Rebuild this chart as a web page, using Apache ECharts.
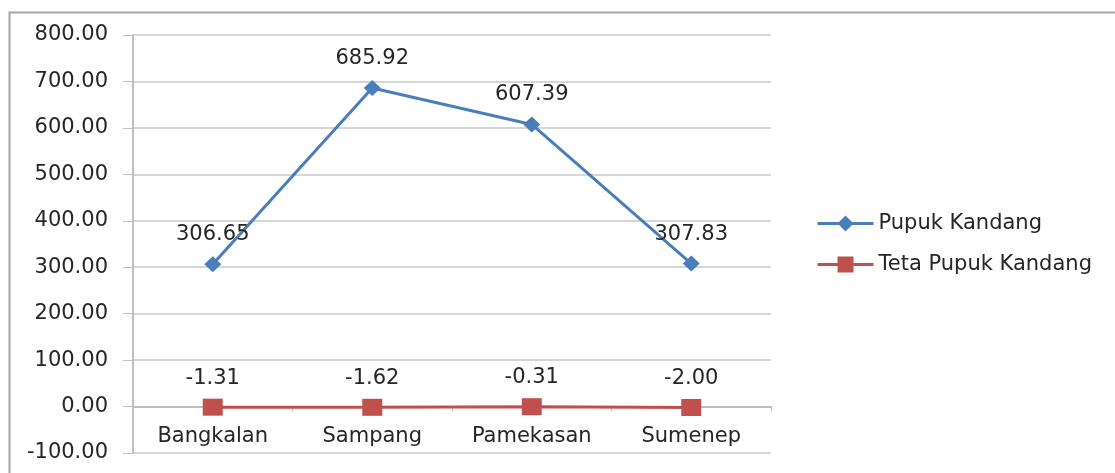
<!DOCTYPE html>
<html>
<head>
<meta charset="utf-8">
<script src="https://cdn.jsdelivr.net/npm/echarts@6/dist/echarts.min.js"></script>
<style>
  html, body { margin: 0; padding: 0; background: #fff; }
  #chart { width: 1115px; height: 473px; }
</style>
</head>
<body>
<div id="chart"></div>
<script>
var categories = ['Bangkalan', 'Sampang', 'Pamekasan', 'Sumenep'];
var pupukKandang = [306.65, 685.92, 607.39, 307.83];
var tetaPupukKandang = [-1.31, -1.62, -0.31, -2.00];
var seriesNames = ['Pupuk Kandang', 'Teta Pupuk Kandang'];

var yMin = -100, yMax = 800, yStep = 100;
var gridTop = 35, gridBottom = 20, chartH = 473;
// move the category axis up to the zero line
var zeroOffset = -(0 - yMin) / (yMax - yMin) * (chartH - gridTop - gridBottom);

var chart = echarts.init(document.getElementById('chart'));
var font = '"DejaVu Sans", "Noto Sans", sans-serif';
var txt = '#262626';

var option = {
  textStyle: { fontFamily: font },
  animation: false,
  graphic: [{
    type: 'rect',
    left: 7, top: 10,
    shape: { width: 1200, height: 600 },
    style: { fill: 'none', stroke: '#a6a6a6', lineWidth: 2 },
    silent: true
  }],
  legend: {
    orient: 'vertical',
    left: 811, top: 208,
    itemWidth: 56, itemHeight: 20,
    itemGap: 20,
    data: seriesNames,
    lineStyle: { width: 3 },
    textStyle: { fontFamily: font, fontSize: 21, color: txt }
  },
  grid: { left: 133, right: 344, top: gridTop, bottom: gridBottom, outerBoundsMode: 'none' },
  xAxis: {
    type: 'category',
    data: categories,
    offset: zeroOffset,
    axisLine: { onZero: false, lineStyle: { color: '#bfbfbf', width: 2 } },
    axisTick: { show: true, length: 5, lineStyle: { color: '#bfbfbf' } },
    axisLabel: { fontFamily: font, fontSize: 21, color: txt, margin: 19 }
  },
  yAxis: {
    type: 'value',
    min: yMin, max: yMax, interval: yStep,
    axisLine: { show: true, lineStyle: { color: '#bfbfbf', width: 2 } },
    axisTick: { show: true, length: 10, lineStyle: { color: '#bfbfbf' } },
    splitLine: { lineStyle: { color: '#d6d6d6', width: 2 } },
    axisLabel: {
      fontFamily: font, fontSize: 21, color: txt, margin: 25,
      formatter: function (v) { return v.toFixed(2); }
    }
  },
  series: [{
    name: seriesNames[0],
    type: 'line',
    data: pupukKandang,
    symbol: 'diamond',
    symbolSize: [17, 16],
    itemStyle: { color: '#4a7ebb' },
    lineStyle: { color: '#4a7ebb', width: 3 },
    label: {
      show: true, position: 'top', distance: 11,
      fontFamily: font, fontSize: 21, color: txt,
      formatter: function (p) { return p.value.toFixed(2); }
    }
  }, {
    name: seriesNames[1],
    type: 'line',
    data: tetaPupukKandang,
    symbol: 'rect',
    symbolSize: [20, 17],
    itemStyle: { color: '#c0504d' },
    lineStyle: { color: '#c0504d', width: 3 },
    label: {
      show: true, position: 'top', distance: 10,
      fontFamily: font, fontSize: 21, color: txt,
      formatter: function (p) { return p.value.toFixed(2); }
    }
  }]
};

chart.setOption(option);
</script>
</body>
</html>
